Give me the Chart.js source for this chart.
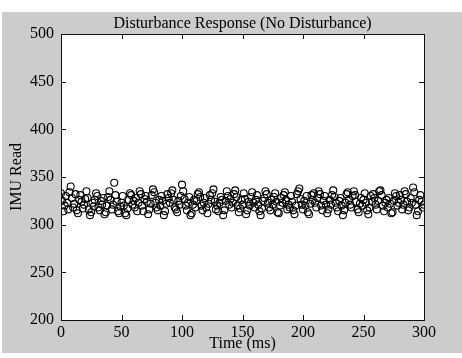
<!DOCTYPE html>
<html>
<head>
<meta charset="utf-8">
<script src="https://cdn.jsdelivr.net/npm/chart.js@4/dist/chart.umd.min.js"></script>
<style>
    html, body { margin: 0; padding: 0; background: #ffffff; }
    #frame {
        position: absolute;
        left: 2px;
        top: 12px;
        width: 460px;
        height: 341px;
        background: #cccccc;
    }
</style>
</head>
<body>
<div id="frame"><canvas id="chart" width="460" height="341"></canvas></div>
<script>
// IMU readings, one sample per ms (t = 0..300)
const imuRead = [
    333, 325, 314, 320, 330, 323, 316, 334, 340, 328,
    318, 322, 332, 315, 312, 326, 331, 324, 317, 321,
    327, 335, 328, 316, 310, 313, 323, 319, 326, 333,
    330, 318, 315, 325, 321, 328, 311, 313, 320, 329,
    335, 326, 316, 321, 344, 331, 324, 314, 312, 319,
    323, 330, 320, 312, 310, 317, 326, 333, 331, 321,
    325, 318, 328, 314, 323, 335, 332, 320, 314, 327,
    330, 324, 311, 316, 322, 331, 337, 334, 323, 318,
    315, 326, 320, 330, 325, 310, 314, 322, 332, 328,
    323, 333, 336, 326, 318, 316, 313, 325, 321, 330,
    342, 335, 327, 320, 315, 323, 329, 310, 312, 321,
    326, 318, 325, 332, 334, 329, 320, 315, 323, 328,
    318, 312, 322, 331, 326, 333, 337, 324, 316, 320,
    314, 323, 329, 326, 310, 315, 325, 335, 330, 321,
    327, 318, 323, 332, 336, 329, 320, 313, 317, 326,
    321, 333, 327, 311, 315, 324, 320, 329, 334, 323,
    318, 326, 331, 321, 314, 310, 317, 325, 328, 335,
    332, 323, 318, 315, 326, 321, 329, 333, 324, 313,
    312, 320, 328, 323, 331, 334, 326, 316, 321, 318,
    330, 324, 315, 311, 320, 332, 335, 338, 327, 321,
    316, 325, 320, 330, 313, 311, 322, 331, 326, 333,
    323, 318, 328, 335, 332, 320, 315, 325, 330, 321,
    312, 316, 326, 321, 331, 336, 329, 323, 318, 314,
    325, 328, 320, 310, 315, 323, 332, 334, 326, 321,
    318, 330, 335, 331, 324, 316, 313, 322, 328, 320,
    326, 333, 323, 315, 311, 318, 330, 324, 332, 328,
    321, 316, 325, 335, 336, 331, 320, 314, 323, 326,
    318, 328, 322, 312, 313, 325, 333, 330, 320, 323,
    331, 326, 316, 321, 335, 332, 324, 315, 318, 328,
    323, 339, 334, 321, 310, 314, 326, 331, 324, 318,
    321
];
const sampleStepMs = 1;

const xTicks = [0, 50, 100, 150, 200, 250, 300];
const yTicks = [200, 250, 300, 350, 400, 450, 500];

const titleText = 'Disturbance Response (No Disturbance)';
const xTitle = 'Time (ms)';
const yTitle = 'IMU Read';

const serif = '"Liberation Serif", "Times New Roman", serif';

const points = imuRead.map(function (v, i) {
    return { x: i * sampleStepMs, y: v };
});

// white plot area, box, inward ticks and the title (MATLAB look)
const matlabFrame = {
    id: 'matlabFrame',
    beforeDatasetsDraw: function (chart) {
        const a = chart.chartArea;
        const ctx = chart.ctx;
        ctx.save();
        ctx.fillStyle = '#ffffff';
        ctx.fillRect(a.left, a.top, a.right - a.left, a.bottom - a.top);
        ctx.restore();
    },
    afterDraw: function (chart) {
        const a = chart.chartArea;
        const ctx = chart.ctx;
        const xs = chart.scales.x;
        const ys = chart.scales.y;
        const tick = 5;
        ctx.save();
        ctx.strokeStyle = '#111111';
        ctx.lineWidth = 1;
        ctx.beginPath();
        xTicks.forEach(function (t) {
            const px = Math.round(xs.getPixelForValue(t)) + 0.5;
            ctx.moveTo(px, a.bottom);
            ctx.lineTo(px, a.bottom - tick);
            ctx.moveTo(px, a.top);
            ctx.lineTo(px, a.top + tick);
        });
        yTicks.forEach(function (t) {
            const py = Math.round(ys.getPixelForValue(t)) + 0.5;
            ctx.moveTo(a.left, py);
            ctx.lineTo(a.left + tick, py);
            ctx.moveTo(a.right, py);
            ctx.lineTo(a.right - tick, py);
        });
        ctx.stroke();
        ctx.strokeRect(Math.round(a.left) + 0.5, Math.round(a.top) + 0.5,
            Math.round(a.right - a.left), Math.round(a.bottom - a.top));

        ctx.fillStyle = '#000000';
        ctx.font = '16px ' + serif;
        ctx.textAlign = 'center';
        ctx.textBaseline = 'alphabetic';
        ctx.fillText(titleText, (a.left + a.right) / 2, a.top - 6);
        ctx.restore();
    }
};

new Chart(document.getElementById('chart'), {
    type: 'scatter',
    data: {
        datasets: [{
            data: points,
            pointStyle: 'circle',
            pointRadius: 3.5,
            borderColor: '#000000',
            backgroundColor: 'rgba(0,0,0,0)',
            borderWidth: 1.1,
            pointHoverRadius: 3.5
        }]
    },
    options: {
        responsive: false,
        animation: false,
        layout: { padding: { top: 22, right: 38, bottom: 0, left: 0 } },
        plugins: {
            legend: { display: false },
            tooltip: { enabled: false },
            title: { display: false }
        },
        scales: {
            x: {
                type: 'linear',
                min: xTicks[0],
                max: xTicks[xTicks.length - 1],
                afterBuildTicks: function (scale) {
                    scale.ticks = xTicks.map(function (v) { return { value: v }; });
                },
                afterFit: function (scale) { scale.height = 33; },
                grid: { display: false, drawTicks: false },
                border: { display: false },
                ticks: {
                    padding: 3,
                    maxRotation: 0,
                    color: '#000000',
                    font: { family: serif, size: 16 }
                },
                title: {
                    display: true,
                    text: xTitle,
                    color: '#000000',
                    padding: { top: 0, bottom: 0 },
                    font: { family: serif, size: 16 }
                }
            },
            y: {
                type: 'linear',
                min: yTicks[0],
                max: yTicks[yTicks.length - 1],
                afterBuildTicks: function (scale) {
                    scale.ticks = yTicks.map(function (v) { return { value: v }; });
                },
                afterFit: function (scale) { scale.width = 59; },
                grid: { display: false, drawTicks: false },
                border: { display: false },
                ticks: {
                    padding: 7,
                    color: '#000000',
                    font: { family: serif, size: 16 }
                },
                title: {
                    display: true,
                    text: yTitle,
                    color: '#000000',
                    padding: { top: 5, bottom: 0 },
                    font: { family: serif, size: 16 }
                }
            }
        }
    },
    plugins: [matlabFrame]
});
</script>
</body>
</html>
